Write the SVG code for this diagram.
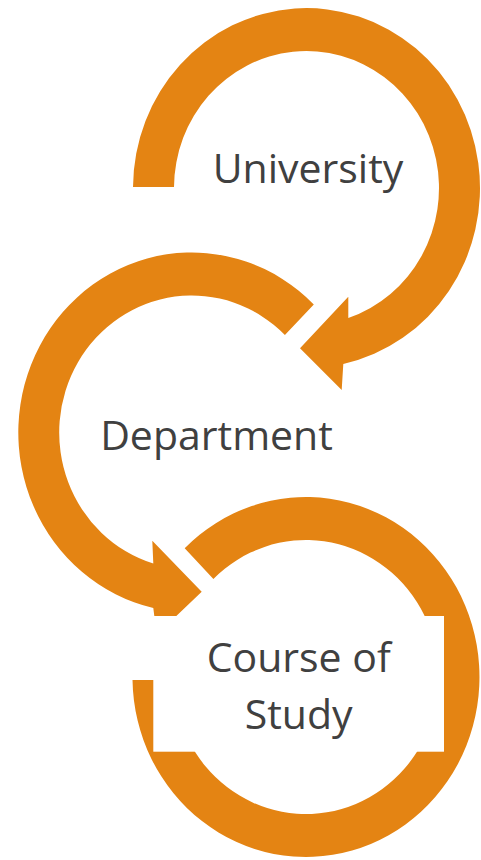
<svg xmlns="http://www.w3.org/2000/svg" width="481" height="860" viewBox="0 0 481 860">
  <style>
    .ring { fill: #E48413; stroke: none; }
    .box { fill: #FFFFFF; stroke: none; }
    .label { font-family: "Open Sans", "Noto Sans", "Liberation Sans", sans-serif; font-size: 41px; fill: #404040; text-anchor: middle; }
  </style>
  <rect x="0" y="0" width="481" height="860" fill="#FFFFFF"/>
  <g id="node-university">
    <path class="ring" d="M 133 187 A 173.5 180 0 1 1 343.3 364 L 341.7 390 L 300 348.3 L 348.3 296.7 L 348.3 318 A 132.5 137 0 1 0 174 187 Z"/>
    <text class="label" x="308" y="183">University</text>
  </g>
  <g id="node-department">
    <path class="ring" d="M 313.8 304.5 A 173.5 180 0 1 0 153.3 608 L 156.7 634.7 L 201.7 591.7 L 152.3 540.7 L 153.3 563.6 A 132.5 137 0 1 1 284.9 335.1 Z"/>
    <text class="label" x="216.5" y="450">Department</text>
  </g>
  <g id="node-course-of-study">
    <path class="ring" d="M 184.7 548.3 A 173.5 180 0 1 1 132.5 680 L 173.5 680 A 132.5 137 0 1 0 213.4 579 Z"/>
    <rect class="box" x="153.3" y="616" width="290.7" height="135.7"/>
    <text class="label" x="298.7" y="671.7">Course of</text>
    <text class="label" x="298.7" y="729.3">Study</text>
  </g>
</svg>
